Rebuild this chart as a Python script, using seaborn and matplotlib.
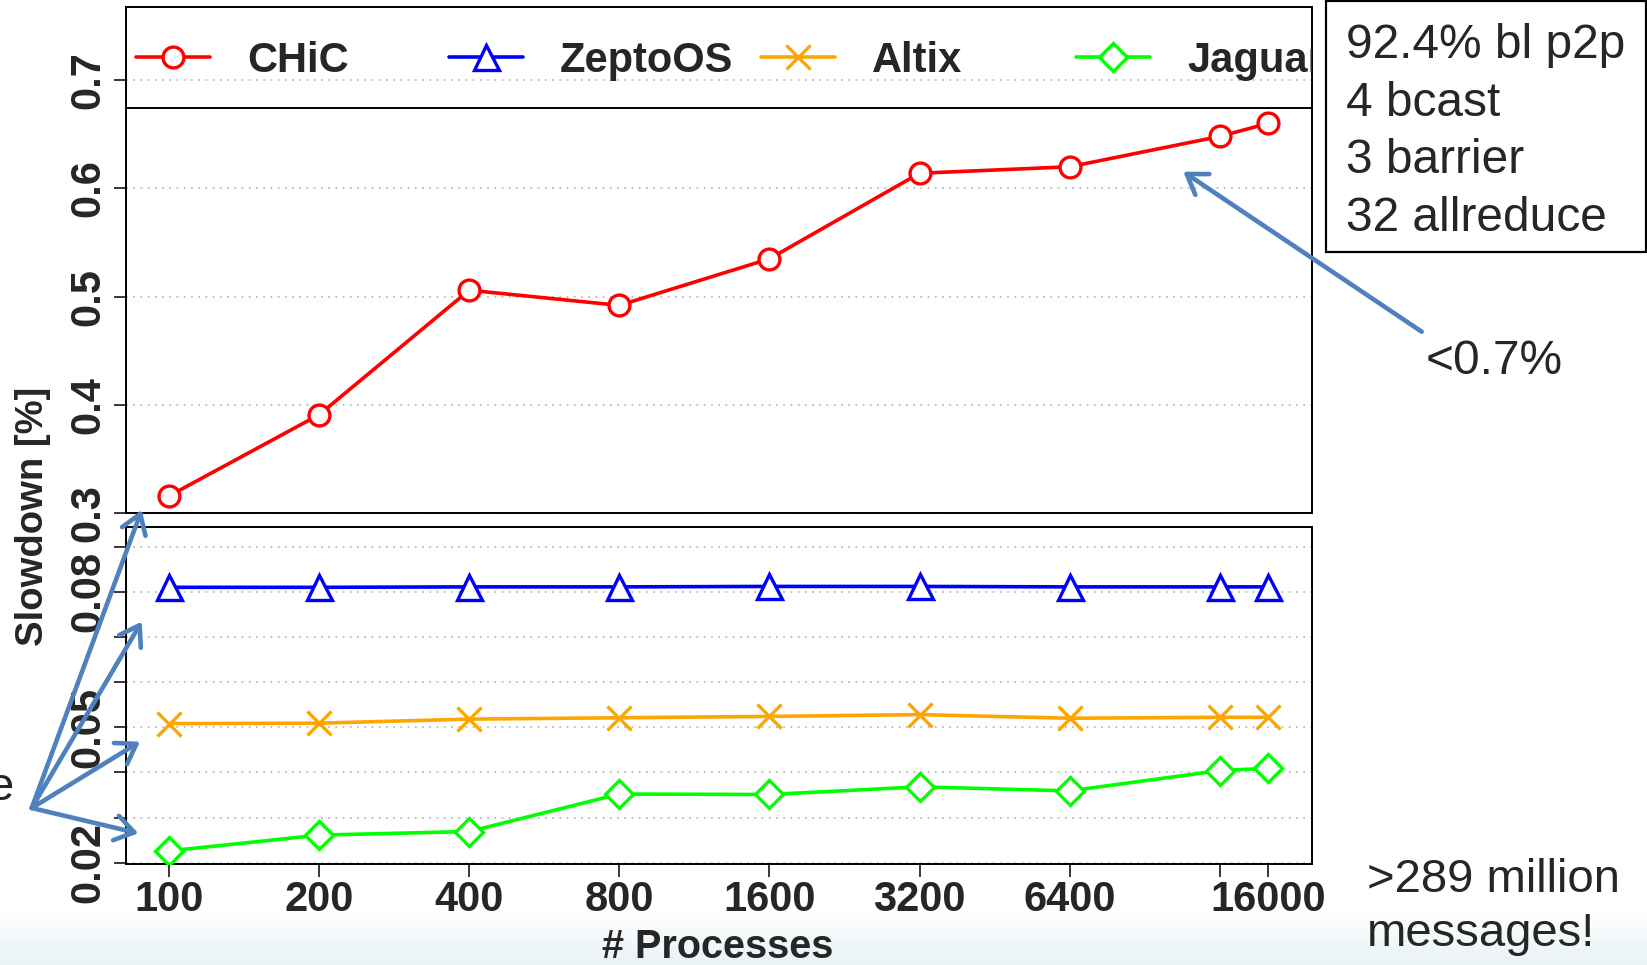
import numpy as np
import matplotlib
matplotlib.use("Agg")
import matplotlib.pyplot as plt
import seaborn as sns
from matplotlib import font_manager
from matplotlib.font_manager import FontProperties
from matplotlib.legend import Legend
from matplotlib.patches import Rectangle, FancyArrowPatch, ArrowStyle

# ---------------- data ----------------
processes = [100, 200, 400, 800, 1600, 3200, 6400, 12800, 16000]
xtick_labels = ["100", "200", "400", "800", "1600", "3200", "6400", "", "16000"]
chic = [0.316, 0.391, 0.506, 0.492, 0.535, 0.614, 0.620, 0.648, 0.660]
zeptoos = [0.0810, 0.0810, 0.0811, 0.0811, 0.0812, 0.0812, 0.0811, 0.0811, 0.0811]
altix = [0.0508, 0.0509, 0.0518, 0.0521, 0.0524, 0.0528, 0.0520, 0.0522, 0.0522]
jaguar = [0.0226, 0.0261, 0.0269, 0.0352, 0.0351, 0.0368, 0.0359, 0.0404, 0.0409]
series_names = ["CHiC", "ZeptoOS", "Altix", "Jaguar"]
series_colors = ["#FF0000", "#0000FF", "#FFA500", "#00FF00"]
series_markers = ["o", "^", "x", "D"]
series_msize = [15, 18, 17, 14]
top_yticks = [0.3, 0.4, 0.5, 0.6, 0.7]
top_ylabels = ["0.3", "0.4", "0.5", "0.6", "0.7"]
bottom_yticks = [0.02, 0.03, 0.04, 0.05, 0.06, 0.07, 0.08, 0.09]
bottom_ylabels = ["0.02", "", "", "0.05", "", "", "0.08", ""]
box_lines = ["92.4% bl p2p", "4 bcast", "3 barrier", "32 allreduce"]

# ---------------- style ----------------
sns.set_style("ticks")
names = {f.name for f in font_manager.fontManager.ttflist}
narrow = "Liberation Sans Narrow" if "Liberation Sans Narrow" in names else "Liberation Sans"
plt.rcParams["font.family"] = [narrow, "DejaVu Sans"]

W, H = 1647, 965
fig = plt.figure(figsize=(W / 100, H / 100), dpi=100)
fig.patch.set_facecolor("white")


def fx(px):
    return px / W


def fy(py):
    return 1 - py / H


# background gradient at the bottom (slide background)
ax_bg = fig.add_axes([0, 0, 1, fy(912)], zorder=-10)
grad = np.linspace(0, 1, 100)[:, None]
c_top = np.array([1.0, 1.0, 1.0])
c_bot = np.array([0.91, 0.95, 0.965])
img = c_bot[None, None, :] * (1 - grad[:, :, None]) + c_top[None, None, :] * grad[:, :, None]
img = img[::-1]
ax_bg.imshow(img, aspect="auto", extent=[0, 1, 0, 1], origin="upper")
ax_bg.axis("off")

left, right = 126, 1312
ax_top = fig.add_axes([fx(left), fy(513.3), fx(right - left), (513.3 - 6.7) / H])
ax_bot = fig.add_axes([fx(left), fy(864), fx(right - left), (864 - 527.3) / H], sharex=ax_top)

for ax in (ax_top, ax_bot):
    ax.set_xscale("log", base=2)
    ax.set_facecolor("white")

series_vals = [chic, zeptoos, altix, jaguar]
handles = []
for name, vals, col, mk, ms in zip(series_names, series_vals, series_colors,
                                   series_markers, series_msize):
    target = ax_top if name == "CHiC" else ax_bot
    sns.lineplot(x=processes, y=vals, ax=target, color=col, marker=mk,
                 markersize=ms, markerfacecolor="white",
                 markeredgecolor=col, markeredgewidth=2.4, linewidth=2.6,
                 label=name, legend=False, errorbar=None, zorder=5)
    handles.append(target.lines[-1])

ax_top.set_xlim(82.0, 19600)
ax_top.set_ylim(0.3, 0.7678)
ax_bot.set_ylim(0.0197, 0.0943)

tick_font = dict(family=[narrow, "DejaVu Sans"], weight="bold", size=30)

# top axis ticks
ax_top.set_yticks(top_yticks)
ax_top.set_yticklabels(top_ylabels, rotation=90, va="center", **tick_font)
ax_top.tick_params(axis="x", which="both", bottom=False, labelbottom=False)
ax_top.tick_params(axis="y", length=9, width=1.3, pad=4, direction="out")

# bottom axis ticks
ax_bot.set_yticks(bottom_yticks)
ax_bot.set_yticklabels(bottom_ylabels, rotation=90, va="center", **tick_font)
ax_bot.tick_params(axis="y", length=9, width=1.3, pad=4, direction="out")
ax_bot.set_xticks(processes)
ax_bot.xaxis.set_minor_locator(matplotlib.ticker.NullLocator())
ax_bot.set_xticklabels(xtick_labels, **tick_font)
ax_bot.tick_params(axis="x", length=9, width=1.3, pad=2.5, direction="out")

for ax in (ax_top, ax_bot):
    ax.set_xlabel("")
    ax.set_ylabel("")
    ax.grid(axis="y", linestyle=(0, (1, 3)), color="#BBBBBB", linewidth=1.3)
    ax.grid(axis="x", visible=False)
    for sp in ax.spines.values():
        sp.set_visible(True)
        sp.set_color("black")
        sp.set_linewidth(1.4)

# legend frame bottom line
ax_top.axhline(0.6745, color="black", linewidth=1.4, zorder=3)

leg_x = [0.00885, 0.2725, 0.5357, 0.8014]
leg_prop = FontProperties(family=[narrow, "DejaVu Sans"], weight="bold", size=30)
for h, name, xx in zip(handles, series_names, leg_x):
    leg = Legend(ax_top, [h], [name], loc="center left", bbox_to_anchor=(xx, 0.893),
                 bbox_transform=ax_top.transAxes, frameon=False, borderpad=0,
                 borderaxespad=0, handlelength=1.76, handletextpad=0.9,
                 prop=leg_prop, numpoints=1)
    for t in leg.get_texts():
        t.set_clip_box(ax_top.bbox)
        t.set_clip_on(True)
    ax_top.add_artist(leg)

# axis labels
fig.text(fx(33), fy(516), "Slowdown [%]", rotation=90, ha="center", va="center",
         family=[narrow, "DejaVu Sans"], weight="bold", size=27.5)
fig.text(fx(718), fy(958), "# Processes", ha="center", va="baseline",
         family=[narrow, "DejaVu Sans"], weight="bold", size=28.5)

# right text box
reg = ["Liberation Sans", "DejaVu Sans"]
fig.add_artist(Rectangle((fx(1326), fy(251.7)), fx(1646 - 1326), (251.7 - 1) / H,
                         transform=fig.transFigure, fill=False, edgecolor="black",
                         linewidth=1.6))
for line, base in zip(box_lines, [57.8, 115.5, 173.3, 231]):
    fig.text(fx(1345.6), fy(base), line, ha="left", va="baseline", family=reg, size=34.5)

fig.text(fx(1425.5), fy(374), "<0.7%", ha="left", va="baseline", family=reg, size=34.5)
fig.text(fx(1367.3), fy(892), ">289 million", ha="left", va="baseline", family=reg, size=34)
fig.text(fx(1367.3), fy(946), "messages!", ha="left", va="baseline", family=reg, size=34)
fig.text(fx(-12), fy(800), "e", ha="left", va="baseline", family=reg, size=34)

# arrows
arrow_col = "#4F81BD"
style = ArrowStyle("->", head_length=0.45, head_width=0.3)


def arrow(p0, p1):
    a = FancyArrowPatch((fx(p0[0]), fy(p0[1])), (fx(p1[0]), fy(p1[1])),
                        transform=fig.transFigure, arrowstyle=style,
                        mutation_scale=30, color=arrow_col, linewidth=3.3,
                        shrinkA=0, shrinkB=0, zorder=20)
    fig.add_artist(a)


arrow((1421.7, 331.7), (1183.3, 171.7))
origin = (31.7, 808)
for tip in [(141.7, 510), (141.7, 621.7), (140, 741.7), (138.3, 833.3)]:
    arrow(origin, tip)

fig.savefig("out.png", dpi=100)
